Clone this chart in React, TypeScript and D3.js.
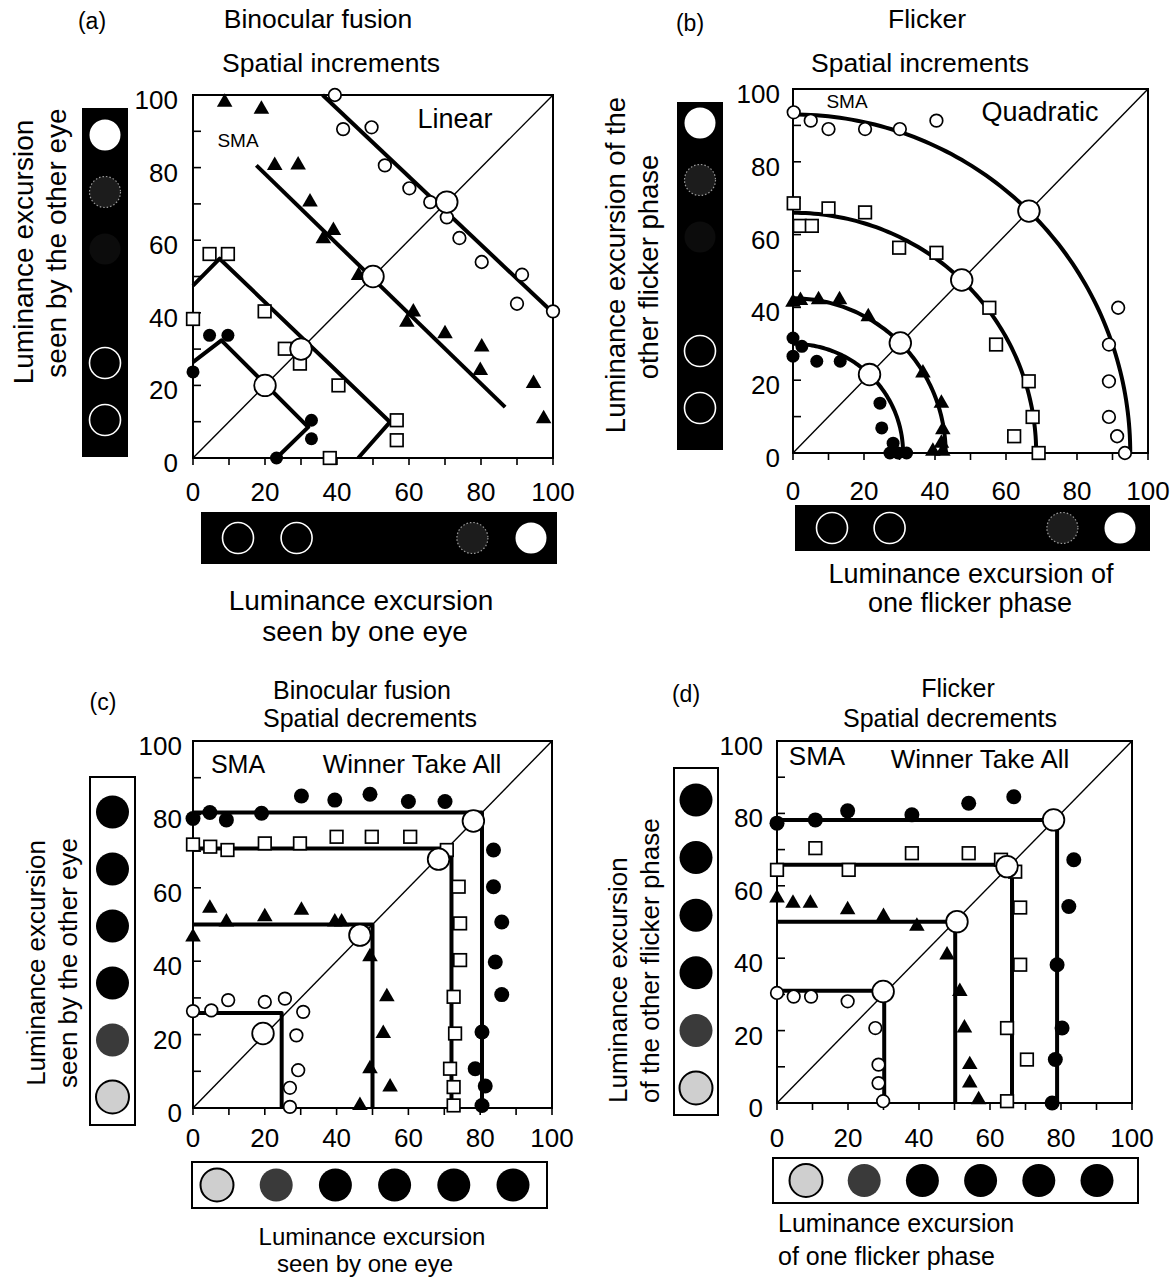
import React, { useEffect, useRef } from "react";
import * as d3 from "d3";

type Pt = [number, number];

// ---------------- Panel (a): binocular fusion, spatial increments ----------------
const aOpenCircles: Pt[] = [[39.4, 100], [41.7, 90.6], [49.6, 91.1], [53.3, 80.6], [60.1, 74.3], [65.9, 70.5], [70.5, 66.3], [74, 60.6], [80.2, 54], [91.4, 50.5], [90, 42.5], [100, 40.4]];
const aTriangles: Pt[] = [[8.8, 98], [19, 96.1], [22.7, 80.6], [29.2, 80.7], [32.5, 70.5], [39, 62.7], [36.2, 60.4], [46, 50.3], [61.2, 40.2], [59.4, 37.4], [70, 34.2], [80.2, 30.6], [79.8, 24.1], [94.6, 20.5], [97.4, 10.8]];
const aSquares: Pt[] = [[4.6, 56.2], [9.7, 56.2], [0, 38.3], [19.9, 40.4], [25.5, 30.1], [29.7, 26], [40.4, 20], [56.6, 10.4], [56.6, 4.9], [38, 0]];
const aFilledCircles: Pt[] = [[4.6, 33.8], [9.7, 33.8], [0, 23.7], [32.9, 10.4], [32.9, 5.3], [23.2, 0]];
const aFitOpen: Pt[] = [[36, 100], [100, 40]];
const aFitTri: Pt[] = [[17.6, 80.6], [86.7, 14]];
const aFitSq: Pt[] = [[0, 47.5], [7.4, 54.9], [54.7, 9.9], [45.9, 0]];
const aFitFilled: Pt[] = [[0, 26.4], [7.9, 32.4], [32, 8.5], [23.2, 0]];
const aCriterion: Pt[] = [[70.5, 70.5], [50, 50], [30, 30], [20, 20]];

// ---------------- Panel (b): flicker, spatial increments ----------------
const bOpenCircles: Pt[] = [[0.2, 93.6], [5, 91.3], [10, 89], [20.3, 89], [30.1, 89], [40.4, 91.3], [91.6, 39.9], [89, 29.8], [89, 19.7], [89, 9.9], [91.3, 4.6], [93.5, 0]];
const bSquares: Pt[] = [[0.2, 68.6], [1.9, 62.4], [5.3, 62.4], [10, 67.2], [20.3, 66.1], [29.9, 56.4], [40.4, 55], [55.3, 39.9], [57.2, 29.8], [66.4, 19.7], [67.5, 9.9], [62.3, 4.6], [69.2, 0]];
const bTriangles: Pt[] = [[0, 41.4], [2.1, 41.9], [7.2, 42.1], [13.1, 42.1], [21.2, 37.4], [36.6, 22], [41.8, 13.7], [42.2, 6.4], [41.8, 2.7], [39.4, 0.5], [42.2, 0.5]];
const bFilledCircles: Pt[] = [[0, 31.6], [0, 26.6], [2.5, 29.3], [6.7, 25.2], [13.3, 25.2], [20.3, 21.5], [24.5, 13.7], [25, 6.9], [28.2, 2.7], [27.3, 0], [29.6, 0], [32, 0]];
// quadratic-summation fits: [radius along x, radius along y]
const bRadii: Pt[] = [[95, 93], [68.5, 66], [43, 42.5], [31, 30]];

// ---------------- Panel (c): binocular fusion, spatial decrements ----------------
const cFilledCircles: Pt[] = [[0, 78.9], [4.7, 80.5], [9.3, 78.5], [19.1, 80.3], [30.2, 85], [39.5, 83.9], [49.3, 85.5], [60, 83.5], [70.2, 83.5], [83.7, 70.3], [83.7, 60.3], [86, 50.7], [84.2, 39.8], [86, 30.9], [80.5, 20.7], [78.6, 10.7], [81.4, 6], [80.5, 0.7]];
const cSquares: Pt[] = [[0, 71.8], [4.8, 71.2], [9.6, 70.3], [20, 72.1], [29.8, 72.1], [40, 73.9], [49.8, 73.9], [60.5, 73.9], [70.7, 70.3], [74, 60.3], [74.4, 50.3], [74.4, 40.3], [72.6, 30.3], [73, 20.3], [71.6, 10.7], [72.6, 5.7], [72.6, 0.7]];
const cTriangles: Pt[] = [[4.7, 54.4], [9.3, 50.7], [20, 52.1], [30.2, 53.9], [39.5, 50.7], [41.4, 50.7], [0, 46.6], [49.3, 41.2], [54, 30.3], [53, 20.3], [49.3, 10.7], [54.9, 5.7], [46.5, 0.7]];
const cOpenCircles: Pt[] = [[0, 26.4], [5.1, 26.6], [9.8, 29.4], [20, 28.9], [25.6, 29.8], [30.7, 26.2], [28.8, 19.8], [29.3, 10.3], [27, 5.5], [27, 0.3]];
// winner-take-all corners: [vertical x, horizontal y]
const cCorners: Pt[] = [[80.5, 80.5], [72, 70.7], [50, 50], [24.7, 25.9]];
const cCriterion: Pt[] = [[78.1, 78.2], [68.4, 67.8], [46.5, 47.1], [19.5, 20.3]];

// ---------------- Panel (d): flicker, spatial decrements ----------------
const dFilledCircles: Pt[] = [[0, 77.3], [10.8, 78.2], [19.9, 80.7], [38, 79.6], [54, 82.8], [66.7, 84.6], [83.6, 67.2], [82.2, 54.3], [78.9, 38.2], [80.3, 20.7], [78.4, 12], [77.5, 0]];
const dSquares: Pt[] = [[0, 64.4], [10.8, 70.4], [20.2, 64.4], [38, 69], [54, 69], [63.1, 67.2], [67.1, 63.9], [68.5, 54], [68.5, 38.2], [64.8, 20.7], [70.4, 12], [64.8, 0.5]];
const dTriangles: Pt[] = [[0, 56.6], [4.5, 55.2], [9.4, 55.2], [19.9, 53.4], [30, 51.5], [39.4, 48.8], [47.9, 40.9], [51.5, 30.8], [52.8, 20.7], [54.3, 10.6], [54.3, 5.5], [56.8, 0.9]];
const dOpenCircles: Pt[] = [[0, 30.4], [4.7, 29.4], [9.6, 29.4], [19.9, 28.1], [27.7, 20.7], [28.6, 10.6], [28.6, 5.5], [29.9, 0.5]];
const dCorners: Pt[] = [[78.9, 78.2], [66.2, 65.8], [50.2, 50.1], [30.2, 31]];
const dCriterion: Pt[] = [[77.9, 78.2], [64.8, 65.3], [50.7, 50.1], [29.9, 30.8]];

const majorTicks = [0, 20, 40, 60, 80, 100];
const minorTicks = [0, 10, 20, 30, 40, 50, 60, 70, 80, 90, 100];

// stimulus icons in the bars
const incLeftIcons = ["white", "dotted", "dim", "none", "ring", "ring"];
const incBottomIcons = ["ring", "ring", "none", "none", "dotted", "white"];
const decLeftIcons = ["black", "black", "black", "black", "dark", "light"];
const decBottomIcons = ["light", "dark", "black", "black", "black", "black"];

const FONT = "'Liberation Sans', Arial, Helvetica, sans-serif";

type Txt = { t: string; x: number; y: number; s: number; a?: string; rot?: boolean };

type Series = { pts: Pt[]; shape: string };

type Panel = {
  x0: number; x1: number; y0: number; y1: number;
  yTickX: number; xTickY: number;
  dotR: number;
  series: Series[];
  fits: Pt[][];
  radii?: Pt[];
  corners?: Pt[];
  big: Pt[] | null;
  leftBar: { x: number; y: number; w: number; h: number; c0: number; c1: number };
  bottomBar: { x: number; y: number; w: number; h: number; c0: number; c1: number };
  leftIcons: string[];
  bottomIcons: string[];
  barStyle: "black" | "white";
  texts: Txt[];
};

const panels: Panel[] = [
  {
    x0: 193, x1: 553, y0: 458, y1: 95, yTickX: 178, xTickY: 501, dotR: 6.5,
    series: [
      { pts: aOpenCircles, shape: "oc" },
      { pts: aTriangles, shape: "tri" },
      { pts: aSquares, shape: "sq" },
      { pts: aFilledCircles, shape: "fc" },
    ],
    fits: [aFitOpen, aFitTri, aFitSq, aFitFilled],
    big: aCriterion,
    leftBar: { x: 82, y: 108, w: 46, h: 349, c0: 135, c1: 420 },
    bottomBar: { x: 201, y: 512, w: 356, h: 52, c0: 238, c1: 531 },
    leftIcons: incLeftIcons, bottomIcons: incBottomIcons, barStyle: "black",
    texts: [
      { t: "(a)", x: 92, y: 29, s: 23 },
      { t: "Binocular fusion", x: 318, y: 28, s: 26.5 },
      { t: "Spatial increments", x: 331, y: 72, s: 26.5 },
      { t: "SMA", x: 238, y: 147, s: 19 },
      { t: "Linear", x: 455, y: 128, s: 27 },
      { t: "Luminance excursion", x: 361, y: 610, s: 28 },
      { t: "seen by one eye", x: 365, y: 641, s: 28 },
      { t: "Luminance excursion", x: 33, y: 252, s: 28, rot: true },
      { t: "seen by the other eye", x: 66, y: 243, s: 28, rot: true },
    ],
  },
  {
    x0: 793, x1: 1148, y0: 453, y1: 89, yTickX: 780, xTickY: 500, dotR: 6.5,
    series: [
      { pts: bOpenCircles, shape: "oc" },
      { pts: bSquares, shape: "sq" },
      { pts: bTriangles, shape: "tri" },
      { pts: bFilledCircles, shape: "fc" },
    ],
    fits: [],
    radii: bRadii,
    big: null,
    leftBar: { x: 677, y: 102, w: 46, h: 348, c0: 123, c1: 408 },
    bottomBar: { x: 795, y: 505, w: 355, h: 46, c0: 832, c1: 1120 },
    leftIcons: incLeftIcons, bottomIcons: incBottomIcons, barStyle: "black",
    texts: [
      { t: "(b)", x: 690, y: 31, s: 23 },
      { t: "Flicker", x: 927, y: 28, s: 26.5 },
      { t: "Spatial increments", x: 920, y: 72, s: 26.5 },
      { t: "SMA", x: 847, y: 108, s: 19 },
      { t: "Quadratic", x: 1040, y: 121, s: 27 },
      { t: "Luminance excursion of", x: 971, y: 583, s: 27 },
      { t: "one flicker phase", x: 970, y: 612, s: 27 },
      { t: "Luminance excursion of the", x: 625, y: 265, s: 27.5, rot: true },
      { t: "other flicker phase", x: 658, y: 267, s: 27.5, rot: true },
    ],
  },
  {
    x0: 193, x1: 552, y0: 1108, y1: 741, yTickX: 182, xTickY: 1147, dotR: 7.5,
    series: [
      { pts: cFilledCircles, shape: "fc" },
      { pts: cSquares, shape: "sq" },
      { pts: cTriangles, shape: "tri" },
      { pts: cOpenCircles, shape: "oc" },
    ],
    fits: [],
    corners: cCorners,
    big: cCriterion,
    leftBar: { x: 90, y: 777, w: 45, h: 348, c0: 812, c1: 1097 },
    bottomBar: { x: 192, y: 1162, w: 355, h: 46, c0: 217, c1: 513 },
    leftIcons: decLeftIcons, bottomIcons: decBottomIcons, barStyle: "white",
    texts: [
      { t: "(c)", x: 103, y: 710, s: 23 },
      { t: "Binocular fusion", x: 362, y: 699, s: 25 },
      { t: "Spatial decrements", x: 370, y: 727, s: 25 },
      { t: "SMA", x: 238, y: 773, s: 25 },
      { t: "Winner Take All", x: 412, y: 773, s: 26 },
      { t: "Luminance excursion", x: 372, y: 1245, s: 24 },
      { t: "seen by one eye", x: 365, y: 1272, s: 24 },
      { t: "Luminance excursion", x: 45, y: 963, s: 26, rot: true },
      { t: "seen by the other eye", x: 77, y: 963, s: 26, rot: true },
    ],
  },
  {
    x0: 777, x1: 1132, y0: 1103, y1: 741, yTickX: 763, xTickY: 1147, dotR: 7.5,
    series: [
      { pts: dFilledCircles, shape: "fc" },
      { pts: dSquares, shape: "sq" },
      { pts: dTriangles, shape: "tri" },
      { pts: dOpenCircles, shape: "oc" },
    ],
    fits: [],
    corners: dCorners,
    big: dCriterion,
    leftBar: { x: 674, y: 768, w: 44, h: 347, c0: 800, c1: 1088 },
    bottomBar: { x: 773, y: 1158, w: 365, h: 45, c0: 806, c1: 1097 },
    leftIcons: decLeftIcons, bottomIcons: decBottomIcons, barStyle: "white",
    texts: [
      { t: "(d)", x: 686, y: 702, s: 23 },
      { t: "Flicker", x: 958, y: 697, s: 25 },
      { t: "Spatial decrements", x: 950, y: 727, s: 25 },
      { t: "SMA", x: 817, y: 765, s: 26 },
      { t: "Winner Take All", x: 980, y: 768, s: 26 },
      { t: "Luminance excursion", x: 778, y: 1232, s: 25, a: "start" },
      { t: "of one flicker phase", x: 778, y: 1265, s: 25, a: "start" },
      { t: "Luminance excursion", x: 627, y: 1103, s: 26, a: "start", rot: true },
      { t: "of the other flicker phase", x: 659, y: 1103, s: 26, a: "start", rot: true },
    ],
  },
];

function drawIcon(g: any, kind: string, cx: number, cy: number, r: number) {
  if (kind === "none") return;
  const c = g.append("circle").attr("cx", cx).attr("cy", cy).attr("r", r);
  if (kind === "white") c.attr("fill", "#fff");
  else if (kind === "dotted") c.attr("fill", "#1c1c1c").attr("stroke", "#9a9a9a").attr("stroke-width", 1.2).attr("stroke-dasharray", "1.5 2");
  else if (kind === "dim") c.attr("fill", "#0c0c0c");
  else if (kind === "ring") c.attr("fill", "none").attr("stroke", "#fff").attr("stroke-width", 1.6);
  else if (kind === "black") c.attr("fill", "#000");
  else if (kind === "dark") c.attr("fill", "#3a3a3a");
  else if (kind === "light") c.attr("fill", "#cfcfcf").attr("stroke", "#000").attr("stroke-width", 2);
}

function drawBar(g: any, b: any, icons: string[], vertical: boolean, style: string) {
  g.append("rect").attr("x", b.x).attr("y", b.y).attr("width", b.w).attr("height", b.h)
    .attr("fill", style === "black" ? "#000" : "#fff")
    .attr("stroke", "#000").attr("stroke-width", style === "black" ? 0 : 2);
  const pos = d3.scaleLinear().domain([0, icons.length - 1]).range([b.c0, b.c1]);
  const r = style === "black" ? 15.5 : 16.5;
  icons.forEach((k, i) => {
    if (vertical) drawIcon(g, k, b.x + b.w / 2, pos(i), r);
    else drawIcon(g, k, pos(i), b.y + b.h / 2, r);
  });
}

function drawPanel(root: any, p: Panel) {
  const g = root.append("g");
  const x = d3.scaleLinear().domain([0, 100]).range([p.x0, p.x1]);
  const y = d3.scaleLinear().domain([0, 100]).range([p.y0, p.y1]);
  const line = d3.line<Pt>().x((d) => x(d[0])).y((d) => y(d[1]));

  drawBar(g, p.leftBar, p.leftIcons, true, p.barStyle);
  drawBar(g, p.bottomBar, p.bottomIcons, false, p.barStyle);

  // frame
  g.append("rect").attr("x", p.x0).attr("y", p.y1).attr("width", p.x1 - p.x0).attr("height", p.y0 - p.y1)
    .attr("fill", "none").attr("stroke", "#000").attr("stroke-width", 2);
  minorTicks.forEach((t) => {
    g.append("line").attr("x1", x(0)).attr("x2", x(0) + 8).attr("y1", y(t)).attr("y2", y(t))
      .attr("stroke", "#000").attr("stroke-width", 1.6);
    g.append("line").attr("x1", x(t)).attr("x2", x(t)).attr("y1", y(0)).attr("y2", y(0) + 7)
      .attr("stroke", "#000").attr("stroke-width", 1.6);
  });
  majorTicks.forEach((t) => {
    g.append("text").text(String(t)).attr("x", p.yTickX).attr("y", y(t) + 14)
      .attr("text-anchor", "end").attr("font-size", 26).attr("font-family", FONT);
    g.append("text").text(String(t)).attr("x", x(t)).attr("y", p.xTickY)
      .attr("text-anchor", "middle").attr("font-size", 26).attr("font-family", FONT);
  });

  // equality diagonal
  g.append("line").attr("x1", x(0)).attr("y1", y(0)).attr("x2", x(100)).attr("y2", y(100))
    .attr("stroke", "#000").attr("stroke-width", 1.4);

  // model fits
  const fitStyle = (sel: any) => sel.attr("fill", "none").attr("stroke", "#000").attr("stroke-width", 4)
    .attr("stroke-linejoin", "round");
  p.fits.forEach((f) => fitStyle(g.append("path").attr("d", line(f))));

  let big: Pt[] = p.big ? p.big.slice() : [];
  if (p.radii) {
    const angles = d3.range(0, 90.5, 1).map((a) => (a * Math.PI) / 180);
    p.radii.forEach(([rx, ry]) => {
      const arc: Pt[] = angles.map((a) => [rx * Math.cos(a), ry * Math.sin(a)] as Pt);
      fitStyle(g.append("path").attr("d", line(arc)));
      const m = (rx * ry) / Math.sqrt(rx * rx + ry * ry);
      big.push([m, m]);
    });
  }
  if (p.corners) {
    p.corners.forEach(([vx, hy]) => {
      const path: Pt[] = [[0, hy], [vx, hy], [vx, 0]];
      fitStyle(g.append("path").attr("d", line(path)).attr("stroke-width", 3.5).attr("stroke-linejoin", "miter"));
    });
  }

  // data markers
  const tri = d3.symbol().type(d3.symbolTriangle).size(105);
  p.series.forEach((s) => {
    s.pts.forEach(([vx, vy]) => {
      const cx = x(vx), cy = y(vy);
      if (s.shape === "oc") {
        g.append("circle").attr("cx", cx).attr("cy", cy).attr("r", 6.3)
          .attr("fill", "#fff").attr("stroke", "#000").attr("stroke-width", 1.7);
      } else if (s.shape === "fc") {
        g.append("circle").attr("cx", cx).attr("cy", cy).attr("r", p.dotR).attr("fill", "#000");
      } else if (s.shape === "sq") {
        g.append("rect").attr("x", cx - 6.3).attr("y", cy - 6.3).attr("width", 12.6).attr("height", 12.6)
          .attr("fill", "#fff").attr("stroke", "#000").attr("stroke-width", 1.7);
      } else if (s.shape === "tri") {
        g.append("path").attr("d", tri()).attr("transform", `translate(${cx},${cy})`).attr("fill", "#000");
      }
    });
  });

  // criterion (equal-excursion) points
  big.forEach(([vx, vy]) => {
    g.append("circle").attr("cx", x(vx)).attr("cy", y(vy)).attr("r", 10.8)
      .attr("fill", "#fff").attr("stroke", "#000").attr("stroke-width", 1.8);
  });

  // texts
  p.texts.forEach((t) => {
    const el = g.append("text").text(t.t).attr("font-size", t.s).attr("font-family", FONT)
      .attr("text-anchor", t.a || "middle").attr("fill", "#000");
    if (t.rot) el.attr("transform", `translate(${t.x},${t.y}) rotate(-90)`);
    else el.attr("x", t.x).attr("y", t.y);
  });
}

export default function App() {
  const ref = useRef<SVGSVGElement>(null);
  useEffect(() => {
    const svg = d3.select(ref.current);
    svg.selectAll("*").remove();
    const root = svg.append("g");
    panels.forEach((p) => drawPanel(root, p));
  }, []);
  return (
    <svg ref={ref} width={1176} height={1278}
      style={{ position: "absolute", left: 0, top: 0, background: "#fff" }} />
  );
}
